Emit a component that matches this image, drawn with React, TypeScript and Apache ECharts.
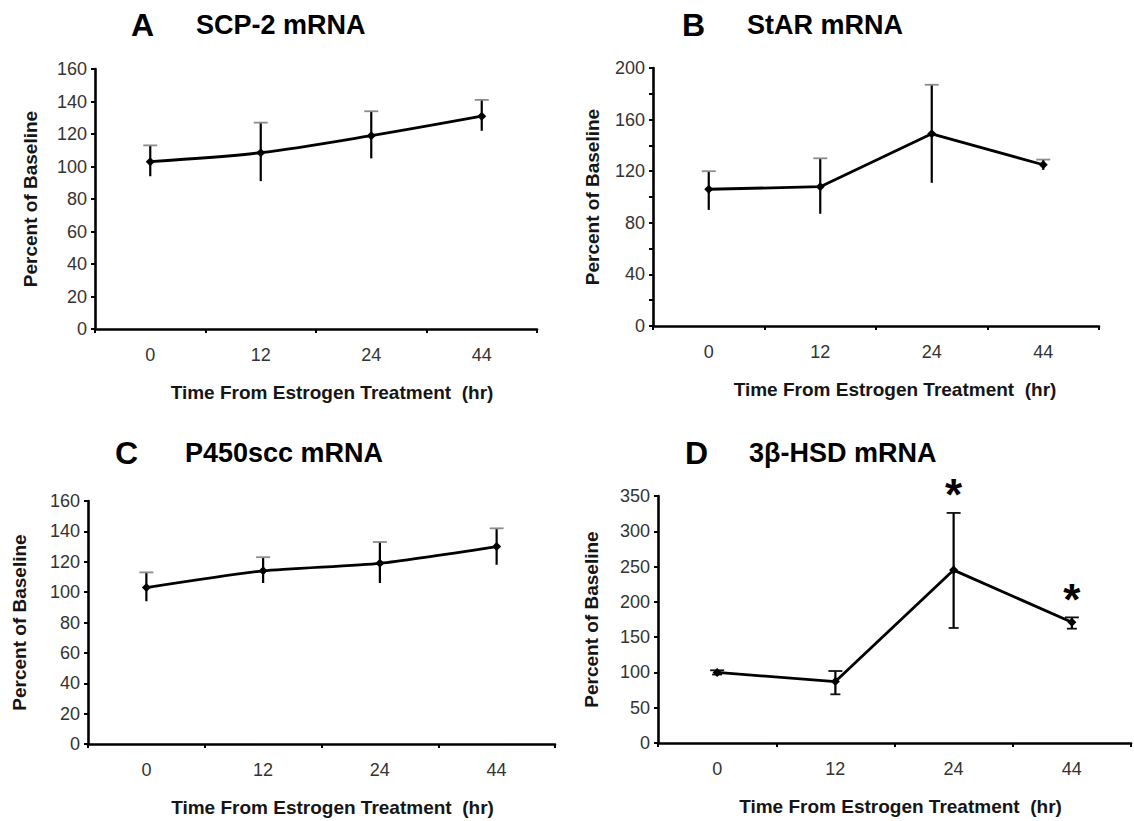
import React, { useEffect, useRef } from "react";
import * as echarts from "echarts";

const hours = ["0", "12", "24", "44"];

const scp2Mean = [103, 108.5, 119, 131];
const scp2Low = [94, 91, 105, 122];
const scp2High = [113, 127, 134, 141];

const starMean = [106, 108, 149, 125];
const starLow = [90, 87, 111, 121];
const starHigh = [120, 130, 187, 129];

const p450Mean = [103, 114, 119, 130];
const p450Low = [94, 106, 106, 118];
const p450High = [113, 123, 133, 142];

const hsdMean = [100, 87, 245, 171];
const hsdLow = [97, 69, 163, 162];
const hsdHigh = [103, 102, 326, 178];
const hsdSignificant = [0, 0, 1, 1];

const FONT = "'Liberation Sans', Arial, Helvetica, sans-serif";

const panels = [
  {
    letter: "A", title: "SCP-2 mRNA", letterX: 131, titleX: 196, titleY: 25,
    grid: { left: 95, top: 69, width: 442, height: 260 },
    max: 160, interval: 20, minor: false,
    mean: scp2Mean, low: scp2Low, high: scp2High, sig: null as number[] | null,
    smooth: 0.3, capBoth: false, capColor: "#8c8c8c", yGap: 55, xPad: 32,
  },
  {
    letter: "B", title: "StAR mRNA", letterX: 682, titleX: 747, titleY: 25,
    grid: { left: 653, top: 68, width: 446, height: 258 },
    max: 200, interval: 40, minor: true,
    mean: starMean, low: starLow, high: starHigh, sig: null as number[] | null,
    smooth: false as any, capBoth: false, capColor: "#8c8c8c", yGap: 51, xPad: 38,
  },
  {
    letter: "C", title: "P450scc mRNA", letterX: 115, titleX: 185, titleY: 453,
    grid: { left: 88, top: 501, width: 467, height: 243 },
    max: 160, interval: 20, minor: false,
    mean: p450Mean, low: p450Low, high: p450High, sig: null as number[] | null,
    smooth: 0.2, capBoth: false, capColor: "#8c8c8c", yGap: 59, xPad: 22,
  },
  {
    letter: "D", title: "3β-HSD mRNA", letterX: 685, titleX: 749, titleY: 453,
    grid: { left: 658, top: 496, width: 473, height: 247 },
    max: 350, interval: 50, minor: false,
    mean: hsdMean, low: hsdLow, high: hsdHigh, sig: hsdSignificant,
    smooth: false as any, capBoth: true, capColor: "#111", yGap: 57, xPad: 12,
  },
];

function buildOption() {
  const grid: any[] = [];
  const xAxis: any[] = [];
  const yAxis: any[] = [];
  const series: any[] = [];
  const graphic: any[] = [];

  panels.forEach((p, i) => {
    grid.push({ ...p.grid, containLabel: false });
    xAxis.push({
      type: "category",
      gridIndex: i,
      data: hours,
      boundaryGap: true,
      name: "Time From Estrogen Treatment  (hr)",
      nameLocation: "middle",
      nameGap: 54,
      nameTextStyle: {
        fontFamily: FONT, fontSize: 19, fontWeight: "bold", color: "#151515",
        padding: [0, 0, 0, p.xPad],
      },
      axisLine: { show: true, lineStyle: { color: "#000", width: 2.6 } },
      axisTick: { show: true, length: 4, inside: false, lineStyle: { color: "#000", width: 2 } },
      axisLabel: { margin: 17, fontFamily: FONT, fontSize: 18, color: "#333" },
      splitLine: { show: false },
    });
    yAxis.push({
      type: "value",
      gridIndex: i,
      min: 0,
      max: p.max,
      interval: p.interval,
      name: "Percent of Baseline",
      nameLocation: "middle",
      nameGap: p.yGap,
      nameTextStyle: { fontFamily: FONT, fontSize: 19, fontWeight: "bold", color: "#151515" },
      axisLine: { show: true, lineStyle: { color: "#000", width: 2.6 } },
      axisTick: { show: true, length: 4, lineStyle: { color: "#000", width: 2 } },
      minorTick: p.minor
        ? { show: true, splitNumber: 2, length: 4, lineStyle: { color: "#000", width: 2 } }
        : { show: false },
      axisLabel: { margin: 8, fontFamily: FONT, fontSize: 18, color: "#333" },
      splitLine: { show: false },
    });

    series.push({
      type: "line",
      xAxisIndex: i,
      yAxisIndex: i,
      data: p.mean,
      smooth: p.smooth,
      symbol: "diamond",
      symbolSize: 9,
      itemStyle: { color: "#000" },
      lineStyle: { color: "#000", width: 2.8 },
      z: 3,
    });

    const errData = p.mean.map((_, k) => [k, p.low[k], p.high[k], p.sig ? p.sig[k] : 0]);
    series.push({
      type: "custom",
      xAxisIndex: i,
      yAxisIndex: i,
      data: errData,
      z: 2,
      renderItem: (params: any, api: any) => {
        const idx = api.value(0);
        const top = api.coord([idx, api.value(2)]);
        const bot = api.coord([idx, api.value(1)]);
        const children: any[] = [
          {
            type: "line",
            shape: { x1: top[0], y1: top[1], x2: bot[0], y2: bot[1] },
            style: { stroke: "#000", lineWidth: 2.2 },
          },
          {
            type: "line",
            shape: { x1: top[0] - 7, y1: top[1], x2: top[0] + 7, y2: top[1] },
            style: { stroke: p.capColor, lineWidth: 1.8 },
          },
        ];
        if (p.capBoth) {
          children.push({
            type: "line",
            shape: { x1: bot[0] - 5, y1: bot[1], x2: bot[0] + 5, y2: bot[1] },
            style: { stroke: p.capColor, lineWidth: 1.8 },
          });
        }
        if (api.value(3) === 1) {
          children.push({
            type: "text",
            x: top[0],
            y: top[1] - 18,
            style: {
              text: "*",
              fontFamily: FONT,
              fontSize: 44,
              fontWeight: "bold",
              fill: "#000",
              align: "center",
              verticalAlign: "middle",
            },
          });
        }
        return { type: "group", children };
      },
    });

    graphic.push({
      type: "text",
      left: p.letterX,
      top: p.titleY - 16,
      style: { text: p.letter, fontFamily: FONT, fontSize: 32, fontWeight: "bold", fill: "#000" },
    });
    graphic.push({
      type: "text",
      left: p.titleX,
      top: p.titleY - 14,
      style: { text: p.title, fontFamily: FONT, fontSize: 27, fontWeight: "bold", fill: "#000" },
    });
  });

  return {
    animation: false,
    backgroundColor: "#fff",
    grid,
    xAxis,
    yAxis,
    series,
    graphic,
  };
}

export default function App() {
  const ref = useRef<HTMLDivElement>(null);
  useEffect(() => {
    if (!ref.current) return;
    const chart = echarts.init(ref.current, undefined, { renderer: "svg" });
    chart.setOption(buildOption() as any);
    return () => chart.dispose();
  }, []);
  return (
    <div
      ref={ref}
      style={{ position: "absolute", left: 0, top: 0, width: 1134, height: 821, background: "#fff" }}
    />
  );
}
